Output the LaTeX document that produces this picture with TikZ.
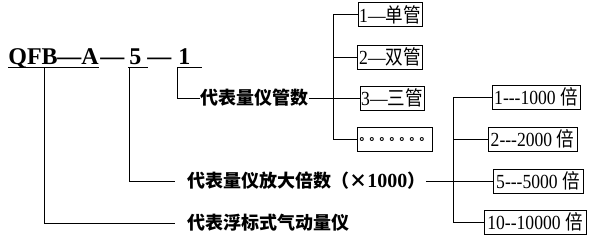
\documentclass[tikz,border=0pt]{standalone}
\usepackage{fontspec}
\setmainfont{Liberation Serif}
\newfontfamily\cjk{Noto Sans CJK SC}
\usetikzlibrary{positioning}
\newcommand{\tubedot}{。\kern-2pt}
\newcommand{\narrowtext}[1]{\scalebox{0.88}[1]{#1}}

\begin{document}
\begin{tikzpicture}[x=1pt, y=-1pt, line width=0.8pt,
    code/.style={font=\bfseries\fontsize{24}{24}\selectfont, inner sep=0pt, anchor=base west},
    meaning/.style={font=\cjk\bfseries\fontsize{18}{18}\selectfont, inner sep=0pt, anchor=west},
    choice/.style={draw, font=\fontsize{20}{20}\selectfont, inner sep=1pt, minimum height=24pt}]
        \useasboundingbox (0,0) rectangle (600,239);
        % model code
        \node[code] (qfb) at (8,64) {QFB};
        \node[code] (typeA) at (57,64) {—A};
        \node[code] (dashA) at (100,64) {—};
        \node[code] (five) at (129,64) {5};
        \node[code] (dashB) at (147,64) {—};
        \node[code] (one) at (178,64) {1};
        \draw ([yshift=-3pt]qfb.base west) -- ([yshift=-3pt]typeA.base east);
        \draw ([yshift=-3pt,xshift=-1pt]five.base west) -- ([yshift=-3pt,xshift=6pt]five.base east);
        \draw ([yshift=-3pt,xshift=-1pt]one.base west) -- ([yshift=-3pt,xshift=11pt]one.base east);
        \coordinate (qfbtick) at (44,67);
        \coordinate (fivetick) at (129,67);
        \coordinate (onetick) at (177,67);

        % meanings
        \node[meaning] (count) at (200,98) {代表量仪管数};
        \node[meaning] (ratio) at (187,181) {代表量仪放大倍数（×{\rmfamily\fontsize{20}{20}\selectfont 1000}）};
        \node[meaning] (float) at (187,223) {代表浮标式气动量仪};
        \draw (onetick) |- (count.west);
        \draw[shorten >=12pt] (fivetick) |- (ratio.west);
        \draw[shorten >=12pt] (qfbtick) |- (float.west);

        % number of tubes
        \node[choice, minimum width=64pt] (t1) at (390,14.5) {\narrowtext{1—{\cjk 单管}}};
        \node[choice, minimum width=65pt] (t2) at (390,57) {\narrowtext{2—{\cjk 双管}}};
        \node[choice, minimum width=64pt] (t3) at (392,98) {\narrowtext{3—{\cjk 三管}}};
        \node[choice, minimum width=75pt] (t4) at (394.5,139) {\raisebox{-4pt}{\cjk\bfseries\fontsize{12}{12}\selectfont \tubedot\tubedot\tubedot\tubedot\tubedot\tubedot\tubedot}};
        \coordinate (tubebus) at (333,0);
        \draw (t1.west -| tubebus) -- (t4.west -| tubebus);
        \foreach \t in {t1,t2,t3,t4}
            \draw (\t.west -| tubebus) -- (\t.west);
        \draw (count.east) -- (t3.west);

        % magnification
        \node[choice, minimum width=88pt] (m1) at (536,97) {\narrowtext{1-{}-{}-1000 {\cjk 倍}}};
        \node[choice, minimum width=89pt] (m2) at (532.5,139) {\narrowtext{2-{}-{}-2000 {\cjk 倍}}};
        \node[choice, minimum width=90pt] (m3) at (538,181) {\narrowtext{5-{}-{}-5000 {\cjk 倍}}};
        \node[choice, minimum width=102pt] (m4) at (535,222) {\narrowtext{10-{}-10000 {\cjk 倍}}};
        \coordinate (ratiobus) at (453,0);
        \draw (m1.west -| ratiobus) -- (m4.west -| ratiobus);
        \foreach \m in {m1,m2,m3,m4}
            \draw (\m.west -| ratiobus) -- (\m.west);
        \draw (ratio.east) -- (m3.west);
    \end{tikzpicture}
\end{document}
